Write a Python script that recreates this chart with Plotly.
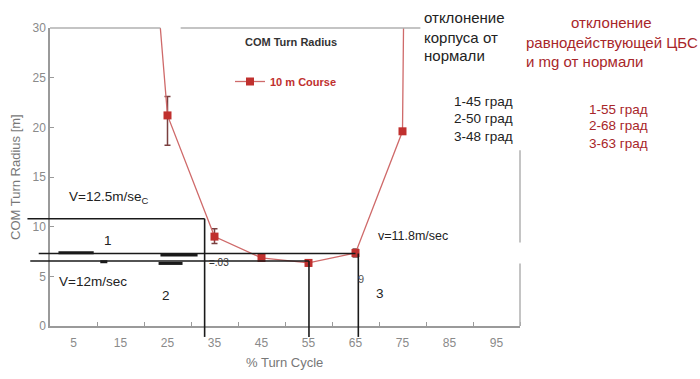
import plotly.graph_objects as go

# ---------------- data ----------------
pct_turn = [15, 25, 35, 45, 55, 65, 75, 85]
com_radius = [79, 21.2, 9.0, 6.85, 6.35, 7.35, 19.6, 500]
err_plus = [0, 1.9, 0.8, 0.3, 0.3, 0.4, 0, 0]
err_minus = [0, 3.0, 0.7, 0.3, 0.3, 0.4, 0, 0]

x_tick_vals = [5, 15, 25, 35, 45, 55, 65, 75, 85, 95]
x_tick_text = ["5", "15", "25", "35", "45", "55", "65", "75", "85", "95"]
x_minor_vals = [10, 20, 30, 40, 50, 60, 70, 80, 90, 100]
y_tick_vals = [0, 5, 10, 15, 20, 25, 30]

# hand-drawn guide lines (in data units): y level, x start, x end
h_guides = [(10.8, -4.8, 32.9), (7.3, -2.4, 65.0), (6.55, -4.2, 55.1)]
# vertical guides: x, y bottom, y top
v_guides = [(32.9, -1.1, 10.8), (55.1, -1.1, 6.55), (65.6, -1.1, 7.3)]
# thick dashes: y, x0, x1
thick_dashes = [(7.38, 1.8, 9.3), (7.15, 23.5, 31.4), (6.47, 10.7, 12.2), (6.3, 23.1, 28.2)]

body_dev = ["1-45 град", "2-50 град", "3-48 град"]
force_dev = ["1-55 град", "2-68 град", "3-63 град"]

XR = (0, 100)
YR = (0, 30)
L, R, T, B = 50, 180, 28, 53
W, H = 700, 379
PW, PH = W - L - R, H - T - B


def xp(v):
    return (v - XR[0]) / (XR[1] - XR[0])


def yp(v):
    return (v - YR[0]) / (YR[1] - YR[0])


def pxx(p):  # pixel -> paper x
    return (p - L) / PW


def pxy(p):  # pixel -> paper y
    return (H - B - p) / PH


RED = "#c0302e"
DARKRED = "#a8262a"
GRAY = "#8a8a8a"
FONT = "Liberation Sans, Arial, sans-serif"

fig = go.Figure()
fig.add_trace(go.Scatter(
    x=pct_turn, y=com_radius, mode="lines+markers",
    name="<b>10 m Course</b>",
    line=dict(color="#cf6a6a", width=1.3),
    marker=dict(symbol="square", size=8, color=RED),
    error_y=dict(type="data", symmetric=False, array=err_plus, arrayminus=err_minus,
                 color="#7a4040", thickness=1.5, width=3),
))

shapes = []
# axis frame remnants
shapes.append(dict(type="line", xref="paper", yref="paper", x0=xp(0), x1=xp(23.5), y0=1, y1=1,
                   line=dict(color="#b0b0b0", width=1.5)))
shapes.append(dict(type="line", xref="paper", yref="paper", x0=xp(27.8), x1=xp(78.8), y0=1, y1=1,
                   line=dict(color="#b0b0b0", width=1.5)))
shapes.append(dict(type="line", xref="paper", yref="paper", x0=1, x1=1, y0=yp(0), y1=yp(6.3),
                   line=dict(color="#b0b0b0", width=1.5)))
shapes.append(dict(type="line", xref="paper", yref="paper", x0=1, x1=1, y0=yp(8.4), y1=yp(17.7),
                   line=dict(color="#b0b0b0", width=1.5)))
for yv, x0, x1 in h_guides:
    shapes.append(dict(type="line", xref="paper", yref="paper", x0=xp(x0), x1=xp(x1),
                       y0=yp(yv), y1=yp(yv), line=dict(color="#1a1a1a", width=1.6)))
for xv, y0, y1 in v_guides:
    shapes.append(dict(type="line", xref="paper", yref="paper", x0=xp(xv), x1=xp(xv),
                       y0=yp(y0), y1=yp(y1), line=dict(color="#1a1a1a", width=1.6)))
for yv, x0, x1 in thick_dashes:
    shapes.append(dict(type="line", xref="paper", yref="paper", x0=xp(x0), x1=xp(x1),
                       y0=yp(yv), y1=yp(yv), line=dict(color="#1a1a1a", width=3)))

ann = []


def text(px_, py_, s, size=13, color="#222", xanchor="left", bold=False, angle=0, align="left"):
    ann.append(dict(x=pxx(px_), y=pxy(py_), xref="paper", yref="paper", text=("<b>%s</b>" % s) if bold else s,
                    showarrow=False, xanchor=xanchor, yanchor="middle", align=align, textangle=angle,
                    font=dict(size=size, color=color, family=FONT)))


text(67, 197, "V=12.5m/se<sub>C</sub>", 13.5)
text(108, 240, "1", 13.5, xanchor="center")
text(57, 281, "V=12m/sec", 13.5)
text(166, 295, "2", 13.5, xanchor="center")
text(380, 293, "3", 13.5, xanchor="center")
text(376, 236, "v=11.8m/sec", 12.5)
text(207, 262, "=.03", 10, color="#333")
text(361, 279, "9", 11, color="#555", xanchor="center")
text(243, 42, "COM Turn Radius", 11, color="#333", bold=True)

# right-side notes
text(422, 17, "отклонение", 15)
text(422, 37, "корпуса от", 15)
text(422, 56, "нормали", 15)
text(611, 23, "отклонение", 15, color=DARKRED, xanchor="center")
text(524, 42, "равнодействующей ЦБС", 15, color=DARKRED)
text(524, 61, "и mg от нормали", 15, color=DARKRED)
for i, s in enumerate(body_dev):
    text(452, 102 + i * 17, s, 13.5)
for i, s in enumerate(force_dev):
    text(587, 109 + i * 17, s, 13.5, color=DARKRED)

# axis titles
text(15, 177, "COM Turn Radius [m]", 13, color="#777", xanchor="center", angle=-90)
text(284, 362, "% Turn Cycle", 13, color="#777", xanchor="center")

fig.update_layout(
    width=W, height=H,
    margin=dict(l=L, r=R, t=T, b=B, pad=0),
    paper_bgcolor="white", plot_bgcolor="white",
    font=dict(family=FONT, size=12, color=GRAY),
    showlegend=True,
    legend=dict(x=pxx(230), y=pxy(67), xanchor="left", yanchor="top",
                bgcolor="rgba(0,0,0,0)", font=dict(size=11, color=RED, family=FONT)),
    shapes=shapes, annotations=ann,
    xaxis=dict(range=list(XR), tickmode="array", tickvals=x_tick_vals, ticktext=x_tick_text,
               ticks="", showgrid=False, zeroline=False, showline=True, linecolor="#9a9a9a",
               linewidth=1.5, tickfont=dict(size=12, color=GRAY), ticklabelstandoff=5,
               minor=dict(tickmode="array", tickvals=x_minor_vals, ticks="inside", ticklen=4,
                          tickcolor="#9a9a9a", showgrid=False)),
    yaxis=dict(range=list(YR), tickmode="array", tickvals=y_tick_vals, ticks="inside", ticklen=4,
               tickcolor="#9a9a9a", showgrid=False, zeroline=False, showline=True,
               linecolor="#9a9a9a", linewidth=1.5, tickfont=dict(size=12, color=GRAY)),
)

fig.write_html("out.html", config={"displayModeBar": False},
               post_script="document.body.style.margin='0px';document.body.style.overflow='hidden';")
